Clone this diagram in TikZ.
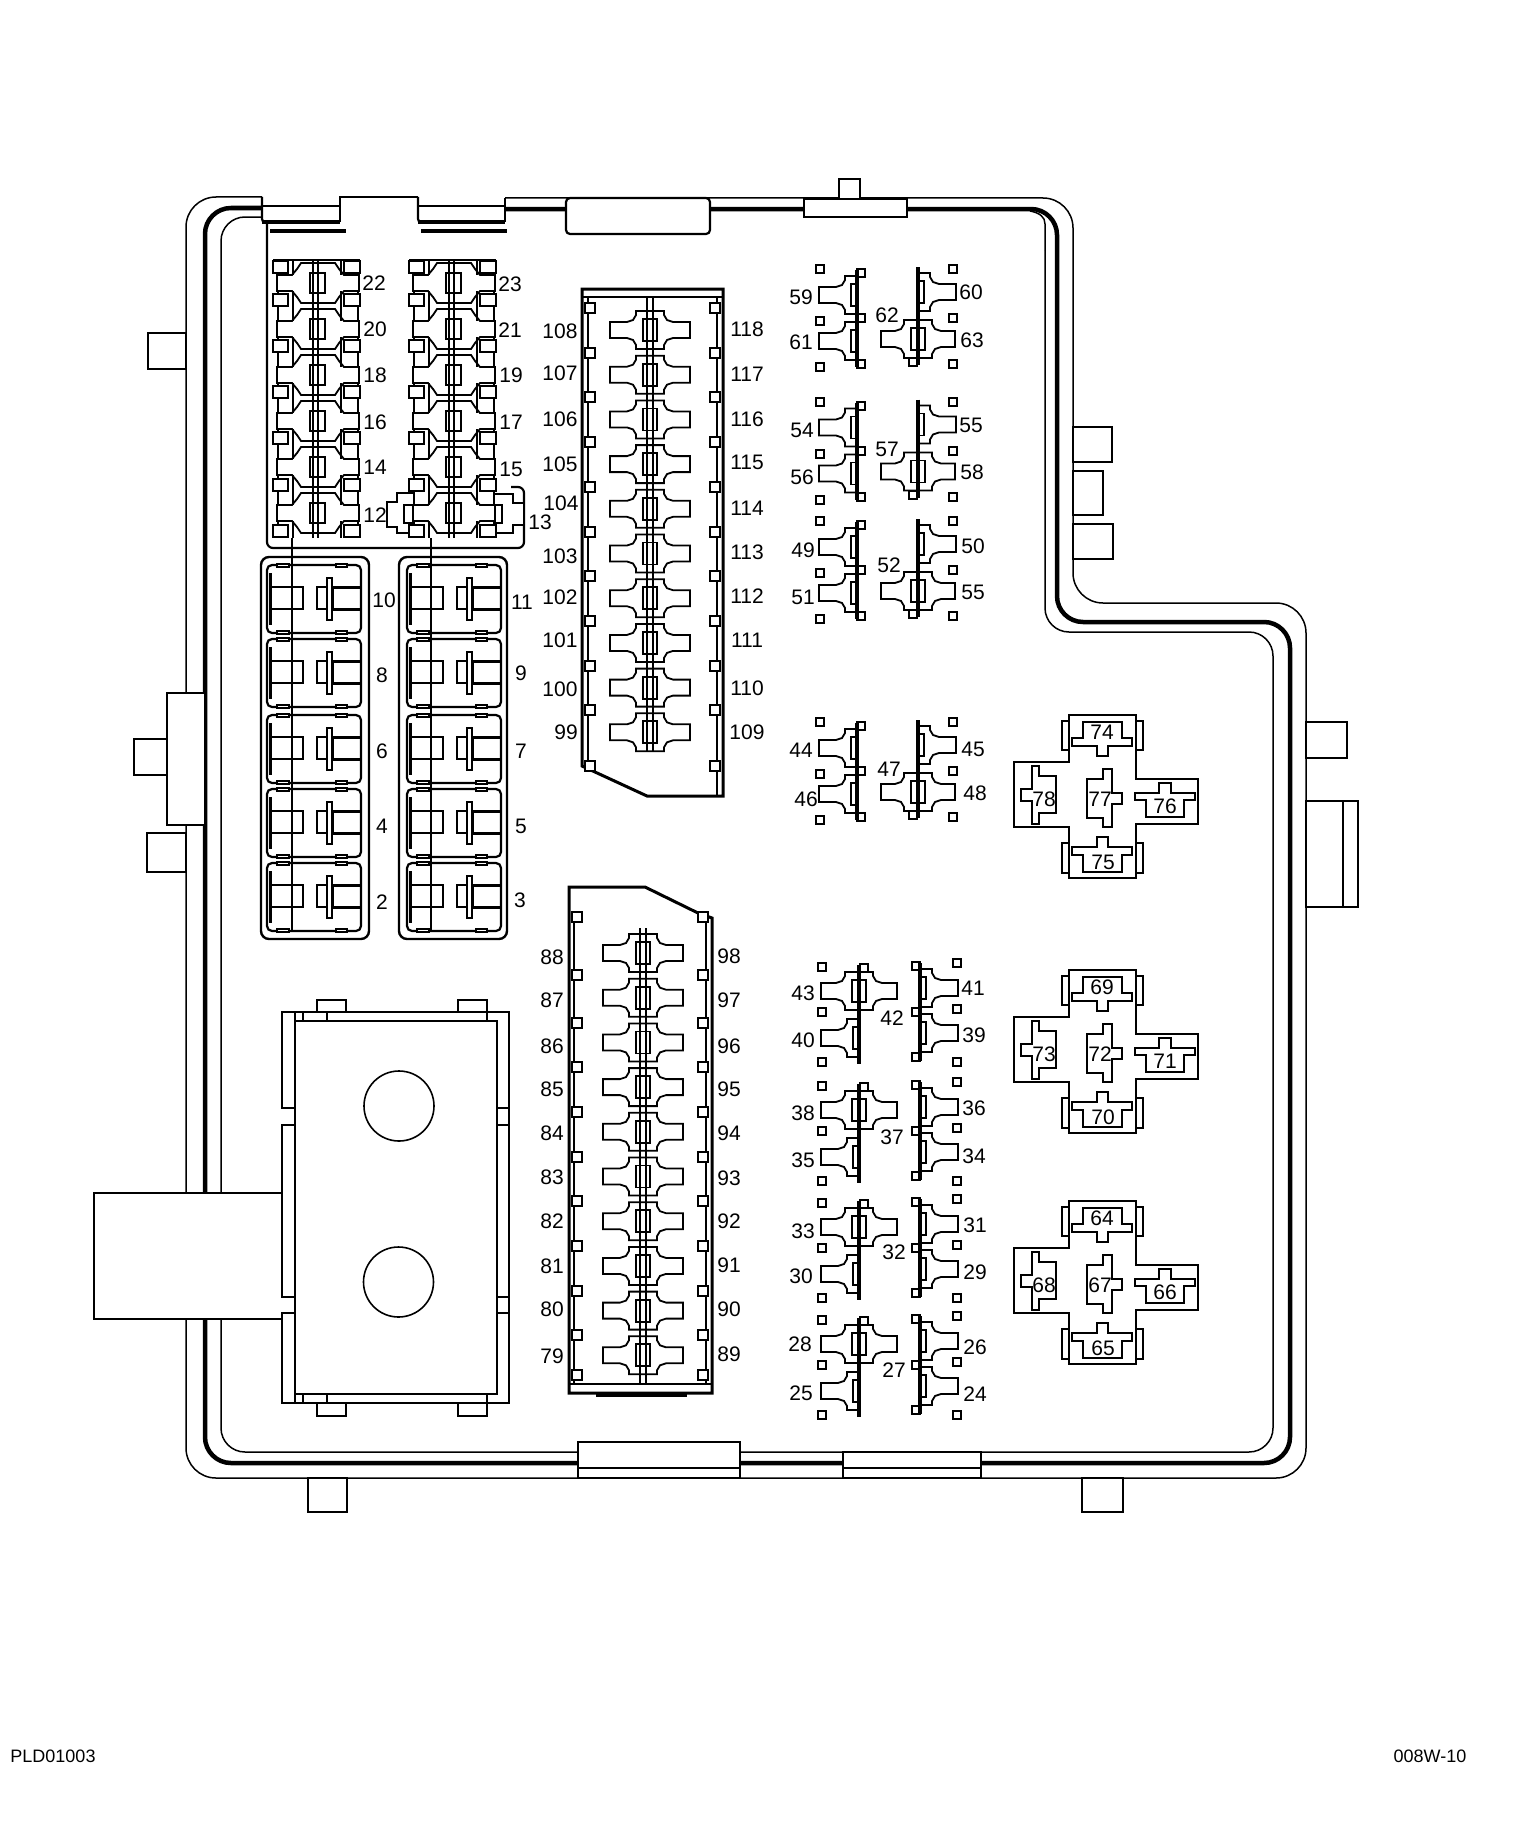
\documentclass[tikz,border=0pt]{standalone}
\usepackage{fontspec}
\setmainfont{Liberation Sans}
\tikzset{
  thin line/.style={line width=1.5pt,line join=miter},
  thk/.style={line width=4.5pt},
  med/.style={line width=2.2pt},
  boxw/.style={line width=1.8pt,fill=white},
  sq/.style={line width=2pt,fill=white},
  lbl/.style={inner sep=0pt,font=\fontsize{21}{21}\selectfont},
  foot/.style={inner sep=0pt,font=\fontsize{18}{18}\selectfont},
}
% full fuse centred on origin
\newcommand\fullfuse[1][40]{%
  \draw[boxw] (-#1,-8)--(-23,-8)--(-17,-10)--(-14,-15)--(-14,-19)--(14,-19)--(14,-15)--(17,-10)--(23,-8)--(#1,-8)--(#1,8)--(23,8)--(17,10)--(14,15)--(14,19)--(-14,19)--(-14,15)--(-17,10)--(-23,8)--(-#1,8)--cycle;
  \draw[boxw] (-7,-11) rectangle (7,11);}
% half fuse to the left of origin; mirror with xscale=-1
\newcommand\halffuse{%
  \draw[boxw] (0,-19)--(-12,-19)--(-12,-15)--(-15,-10)--(-21,-8)--(-38,-8)--(-38,8)--(-21,8)--(-15,10)--(-12,15)--(-12,19)--(0,19);
  \draw[boxw] (-6,-11) rectangle (0,11);}
\newcommand\smsq[2]{\draw[sq] (#1-4,#2-4) rectangle (#1+4,#2+4);}
\newcommand\bigsq[2]{\draw[sq] (#1-5,#2-5) rectangle (#1+5,#2+5);}
% upper relay-type group
\newcommand\groupTop[1]{\begin{scope}[shift={(0,#1)}]
  \begin{scope}[shift={(857,295)}]\halffuse\end{scope}
  \begin{scope}[shift={(857,341)}]\halffuse\end{scope}
  \smsq{820}{269}\smsq{820}{321}\smsq{820}{367}
  \smsq{861}{273}\smsq{861}{318}\smsq{861}{364}
  \draw[thk] (857,270)--(857,367);
  \begin{scope}[shift={(918,292)},xscale=-1]\halffuse\end{scope}
  \begin{scope}[shift={(918,339)}]\fullfuse[37]\end{scope}
  \smsq{953}{269}\smsq{953}{318}\smsq{953}{364}\smsq{913}{362}
  \draw[thk] (918,267)--(918,365);
\end{scope}}
% lower relay-type group
\newcommand\groupBot[1]{\begin{scope}[shift={(0,#1)}]
  \begin{scope}[shift={(859,991)}]\fullfuse[38]\end{scope}
  \begin{scope}[shift={(859,1038)}]\halffuse\end{scope}
  \smsq{822}{967}\smsq{822}{1012}\smsq{822}{1062}\smsq{864}{968}
  \draw[thk] (859,965)--(859,1064);
  \begin{scope}[shift={(920,988)},xscale=-1]\halffuse\end{scope}
  \begin{scope}[shift={(920,1033)},xscale=-1]\halffuse\end{scope}
  \smsq{916}{966}\smsq{916}{1012}\smsq{916}{1057}
  \smsq{957}{963}\smsq{957}{1009}\smsq{957}{1062}
  \draw[thk] (920,963)--(920,1061);
\end{scope}}
% cross shaped relay
\newcommand\relay[6]{\begin{scope}[shift={(0,#1)}]
  \draw[med] (1069,721)--(1062,721)--(1062,750)--(1069,750);
  \draw[med] (1136,721)--(1143,721)--(1143,750)--(1136,750);
  \draw[med] (1069,843)--(1062,843)--(1062,873)--(1069,873);
  \draw[med] (1136,843)--(1143,843)--(1143,873)--(1136,873);
  \draw[med] (1069,715)--(1136,715)--(1136,779)--(1198,779)--(1198,824)--(1136,824)--(1136,878)--(1069,878)--(1069,827)--(1014,827)--(1014,762)--(1069,762)--cycle;
  \draw[med] (1083,738)--(1083,722)--(1122,722)--(1122,738)--(1132,738)--(1132,746)--(1108,746)--(1108,756)--(1097,756)--(1097,746)--(1072,746)--(1072,738)--cycle;
  \draw[med] (1083,855)--(1083,872)--(1122,872)--(1122,855)--(1132,855)--(1132,847)--(1108,847)--(1108,837)--(1097,837)--(1097,847)--(1072,847)--(1072,855)--cycle;
  \draw[med] (1021,789)--(1032,789)--(1032,766)--(1039,766)--(1039,776)--(1056,776)--(1056,813)--(1039,813)--(1039,824)--(1032,824)--(1032,801)--(1021,801)--cycle;
  \draw[med] (1159,793)--(1159,783)--(1171,783)--(1171,793)--(1195,793)--(1195,800)--(1184,800)--(1184,817)--(1146,817)--(1146,800)--(1135,800)--(1135,793)--cycle;
  \draw[med] (1103,779)--(1103,769)--(1112,769)--(1112,793)--(1122,793)--(1122,804)--(1112,804)--(1112,827)--(1103,827)--(1103,818)--(1087,818)--(1087,779)--cycle;
  \node[lbl] (L#2) at (1102,732) {#2};
  \node[lbl] (L#3) at (1103,862) {#3};
  \node[lbl] (L#4) at (1044,799) {#4};
  \node[lbl] (L#5) at (1100,799) {#5};
  \node[lbl] (L#6) at (1165,806) {#6};
\end{scope}}
% large fuse cell, left top corner at origin
\newcommand\cell[2]{\begin{scope}[shift={(#1,#2)}]
  \draw[med,rounded corners=5pt] (0,0) rectangle (94,68);
  \draw[line width=3pt] (3,8)--(3,60);
  \draw[med,fill=white] (10,-1) rectangle (22,2);
  \draw[med,fill=white] (69,-1) rectangle (80,2);
  \draw[med,fill=white] (10,66) rectangle (22,69);
  \draw[med,fill=white] (69,66) rectangle (80,69);
  \draw[line width=2.6pt] (3,22)--(36,22)--(36,44)--(3,44);
  \draw[line width=2.6pt] (60,22)--(50,22)--(50,44)--(60,44);
  \draw[line width=1.6pt] (60,13) rectangle (65,55);
  \draw[line width=3pt] (65,22)--(65,44);
  \draw[line width=3pt] (65,22)--(94,22);
  \draw[line width=3pt] (65,44)--(94,44);
\end{scope}}
% mini fuse column
\newcommand\minicol[1]{\begin{scope}[shift={(#1,0)}]
  \foreach \fy in {283,329,375,421,467,513}{
    \begin{scope}[shift={(0,\fy)}]
    \draw[boxw] (-41,-8)--(-26,-8)--(-21,-14)--(-17,-20)--(17,-20)--(21,-14)--(26,-8)--(41,-8)--(41,8)--(26,8)--(21,14)--(17,20)--(-17,20)--(-21,14)--(-26,8)--(-41,8)--cycle;
    \draw[boxw] (-8,-10) rectangle (7,10);
    \end{scope}}
  \foreach \gy/\hy in {260/275,291/321,337/367,383/413,429/459,475/505,521/538}{
    \draw[line width=2.8pt] (-25,\gy)--(-25,\hy);
    \draw[line width=2.8pt] (23,\gy)--(23,\hy);
    \draw[line width=2.8pt] (-40,\gy)--(-40,\hy);
    \draw[line width=2.8pt] (40,\gy)--(40,\hy);}
  \draw[line width=2.8pt] (-45,260)--(42,260);
  \foreach \sy in {267,300,346,392,438,485,531}{
    \draw[line width=2.8pt,fill=white] (-45,\sy-6) rectangle (-30,\sy+6);
    \draw[line width=2.8pt,fill=white] (26,\sy-6) rectangle (42,\sy+6);}
  \draw[line width=1.5pt] (-5,260)--(-5,538);
  \draw[line width=2.6pt] (0,260)--(0,538);
\end{scope}}
\begin{document}
\begin{tikzpicture}[x=1pt,y=-1pt,line cap=butt]
\useasboundingbox (0,0) rectangle (1536,1830);
\fill[white] (0,0) rectangle (1536,1830);
% ---- housing outline ----
\draw[thin line,rounded corners=30pt] (262,197)--(186,197)--(186,1478)--(1306,1478)--(1306,603)--(1073,603)--(1073,198)--(505,198);
\draw[line width=4.5pt,rounded corners=26pt] (262,208)--(205,208)--(205,1463)--(1290,1463)--(1290,622)--(1057,622)--(1057,209)--(505,209);
\draw[thin line,rounded corners=24pt] (262,217)--(221,217)--(221,1452)--(1273,1452)--(1273,632)--(1045,632)--(1045,250);
\draw[thin line] (1045,250)--(1045,224) .. controls (1045,217) and (1040,213) .. (1030,211);
\draw[med,rounded corners=3pt] (262,197)--(262,222)--(268,222);
\draw[line width=4pt] (262,222)--(340,222);
\draw[med] (262,206)--(340,206);
\draw[med] (340,222)--(340,197)--(418,197);
\draw[med,rounded corners=3pt] (418,197)--(418,222)--(424,222);
\draw[line width=4pt] (418,222)--(505,222);
\draw[med] (418,206)--(505,206);
\draw[med] (505,222)--(505,198);
\draw[line width=4pt] (270,230.5)--(346,230.5);
\draw[line width=4pt] (421,230.5)--(507,230.5);
\draw[med,rounded corners=4pt,fill=white] (566,198)--(566,234)--(710,234)--(710,198)--cycle;
\draw[med,fill=white] (804,199) rectangle (907,217);
\draw[med,fill=white] (839,179) rectangle (860,199);
% bottom strips
\draw[med,fill=white] (578,1442) rectangle (740,1478);
\draw[med] (578,1468)--(740,1468);
\draw[med,fill=white] (843,1452) rectangle (981,1478);
\draw[med] (843,1468)--(981,1468);
% outer tabs
\draw[boxw] (148,333) rectangle (186,369);
\draw[boxw] (167,693) rectangle (205,825);
\draw[boxw] (134,739) rectangle (167,775);
\draw[boxw] (147,833) rectangle (186,872);
\draw[boxw] (1073,427) rectangle (1112,462);
\draw[boxw] (1073,471) rectangle (1103,515);
\draw[boxw] (1073,524) rectangle (1113,559);
\draw[boxw] (1306,722) rectangle (1347,758);
\draw[boxw] (1306,801) rectangle (1358,907);
\draw[thin line] (1343,801)--(1343,907);
\draw[med,fill=white] (308,1478) rectangle (347,1512);
\draw[med,fill=white] (1082,1478) rectangle (1123,1512);
% ---- power block, lower left ----
\draw[boxw] (94,1193) rectangle (284,1319);
\draw[med,fill=white] (317,1000) rectangle (346,1012);
\draw[med,fill=white] (458,1000) rectangle (487,1012);
\draw[med,fill=white] (317,1403) rectangle (346,1416);
\draw[med,fill=white] (458,1403) rectangle (487,1416);
\draw[line width=2pt,fill=white] (282,1012) rectangle (509,1403);
\draw[line width=2.4pt,fill=white] (295,1021) rectangle (497,1394);
\draw[med] (295,1012)--(295,1021) (303,1012)--(303,1021) (327,1012)--(327,1021) (487,1012)--(487,1021);
\draw[med] (295,1394)--(295,1403) (303,1394)--(303,1403) (327,1394)--(327,1403) (487,1394)--(487,1403);
\draw[med] (282,1108)--(295,1108) (282,1125)--(295,1125) (282,1297)--(295,1297) (282,1313)--(295,1313);
\draw[white,line width=3pt] (282,1109)--(282,1124) (282,1298)--(282,1312);
\draw[med] (497,1108)--(509,1108) (497,1125)--(509,1125) (497,1297)--(509,1297) (497,1313)--(509,1313);
\draw[line width=1.6pt] (399,1106) circle (35);
\draw[line width=1.6pt] (398.5,1282) circle (35);
% ---- mini fuse block ----
\draw[med,rounded corners=6pt] (267,223)--(267,548)--(524,548)--(524,487)--(511,487);
\minicol{318}
\draw[med,fill=white] (413,493)--(397,493)--(397,502)--(387,502)--(387,527)--(397,527)--(397,533)--(413,533);
\draw[med,fill=white] (404,505) rectangle (414,523);
\draw[med,fill=white] (495,494)--(513,494)--(513,503)--(524,503)--(524,525)--(513,525)--(513,533)--(495,533);
\draw[med,fill=white] (494,505) rectangle (502,523);
\minicol{454}
% ---- large fuse cells ----
\draw[line width=2.4pt,rounded corners=8pt] (261,557) rectangle (369,939);
\draw[line width=2.4pt,rounded corners=8pt] (399,557) rectangle (507,939);
\foreach \ty in {565,639,715,789,863}{\cell{267}{\ty}\cell{407}{\ty}}
\draw[med] (292,538)--(292,930);
\draw[med] (431,538)--(431,930);
% ---- upper fuse panel ----
\draw[line width=3pt] (582,766)--(582,289)--(723,289)--(723,796)--(647,796)--cycle;
\draw[line width=2.2pt] (582,297)--(723,297);
\draw[line width=2.2pt] (588,297)--(588,766);
\draw[line width=2.2pt] (717,297)--(717,796);
\foreach \i in {0,...,9}{
  \begin{scope}[shift={(650,{330+44.7*\i})}]\fullfuse\end{scope}
  \bigsq{590}{308+44.7*\i}\bigsq{715}{308+44.7*\i}}
\bigsq{590}{766}\bigsq{715}{766}
\draw[line width=1.6pt] (647,297)--(647,752);
\draw[line width=1.6pt] (653,297)--(653,752);
% ---- lower fuse panel ----
\draw[line width=3pt] (569,1393)--(569,887)--(645,887)--(698,913)--(712,918)--(712,1393)--cycle;
\draw[line width=2.2pt] (569,1384)--(712,1384);
\draw[line width=2.2pt] (574,917)--(574,1384);
\draw[line width=2.2pt] (706,917)--(706,1384);
\draw[line width=3pt] (596,1395.5)--(687,1395.5);
\foreach \i in {0,...,9}{
  \begin{scope}[shift={(643,{953+44.7*\i})}]\fullfuse\end{scope}}
\foreach \sy in {917,975,1023,1067,1112,1157,1201,1246,1291,1335,1375}{
  \bigsq{577}{\sy}\bigsq{703}{\sy}}
\draw[line width=1.6pt] (640,928)--(640,1384);
\draw[line width=1.6pt] (646,928)--(646,1384);
% ---- terminal groups ----
\groupTop{0}\groupTop{132.5}\groupTop{252}\groupTop{453}
\groupBot{0}\groupBot{119}\groupBot{236}\groupBot{353}
% ---- relays ----
\relay{0}{74}{75}{78}{77}{76}
\relay{255}{69}{70}{73}{72}{71}
\relay{486}{64}{65}{68}{67}{66}
% ---- labels ----
\foreach \x/\y/\t in {
 374/283/22,375/329/20,375/375/18,375/422/16,375/467/14,375/515/12,
 510/284/23,510/330/21,511/375/19,511/422/17,511/469/15,540/522/13,
 384/600/10,382/675/8,382/751/6,382/826/4,382/902/2,
 522/602/11,521/673/9,521/751/7,521/826/5,520/900/3,
 560/331/108,560/373/107,560/419/106,560/464/105,561/503/104,560/556/103,560/597/102,560/640/101,560/689/100,566/732/99,
 747/329/118,747/374/117,747/419/116,747/462/115,747/508/114,747/552/113,747/596/112,747/640/111,747/688/110,747/732/109,
 552/957/88,552/1000/87,552/1046/86,552/1089/85,552/1133/84,552/1177/83,552/1221/82,552/1266/81,552/1309/80,552/1356/79,
 729/956/98,729/1000/97,729/1046/96,729/1089/95,729/1133/94,729/1178/93,729/1221/92,729/1265/91,729/1309/90,729/1354/89,
 801/297/59,801/342/61,887/315/62,971/292/60,972/340/63,
 802/430/54,802/477/56,887/449/57,971/425/55,972/472/58,
 803/550/49,803/597/51,889/565/52,973/546/50,973/592/55,
 801/750/44,806/799/46,889/769/47,973/749/45,975/793/48,
 803/993/43,803/1040/40,892/1018/42,973/988/41,974/1035/39,
 803/1113/38,803/1160/35,892/1137/37,974/1108/36,974/1156/34,
 803/1231/33,801/1276/30,894/1252/32,975/1225/31,975/1272/29,
 800/1344/28,801/1393/25,894/1370/27,975/1347/26,975/1394/24}
 {\node[lbl] (L\t) at (\x,\y) {\t};}
\node[foot] (codeL) at (53,1756) {PLD01003};
\node[foot] (codeR) at (1430,1756) {008W-10};
\end{tikzpicture}
\end{document}
